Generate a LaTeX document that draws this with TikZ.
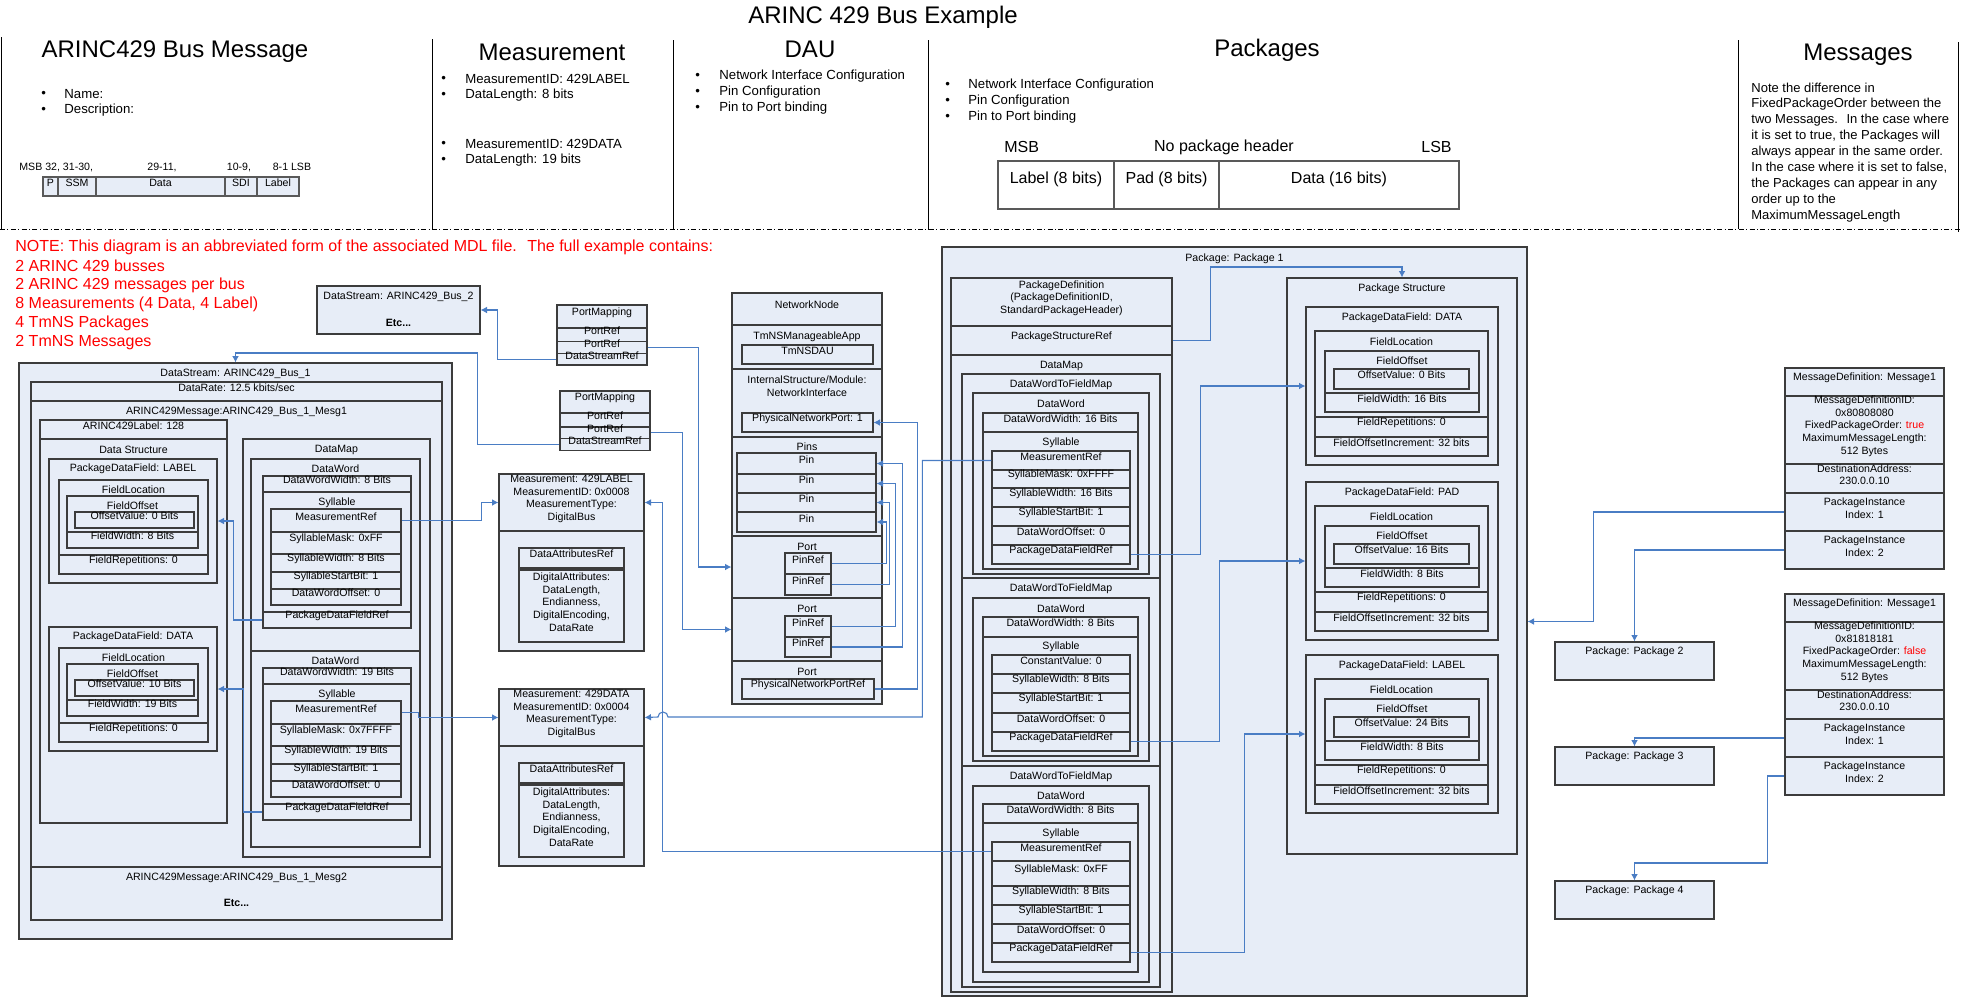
\documentclass[tikz,border=0pt]{standalone}
\usepackage{fontspec}
\setmainfont{Liberation Sans}
\usetikzlibrary{arrows.meta,fit}
\definecolor{boxfill}{HTML}{E7EDF7}
\definecolor{boxline}{HTML}{3C3C3C}
\definecolor{linkblue}{HTML}{4A7DC4}
\definecolor{notered}{HTML}{FF0000}
\begin{document}
\begin{tikzpicture}
  [x=0.5pt,y=-0.5pt,
   cell/.style={draw=boxline,fill=boxfill,line width=0.6pt,inner sep=0pt},
   row/.style={cell,font=\fontsize{5.3}{6.4}\selectfont,align=center},
   txt/.style={inner sep=0pt,font=\fontsize{5.3}{6.4}\selectfont,align=center},
   etc/.style={inner sep=0pt,font=\fontsize{5.3}{6.4}\selectfont\bfseries},
   head/.style={inner sep=0pt,font=\fontsize{12}{14}\selectfont},
   bul/.style={inner sep=0pt,anchor=west,font=\fontsize{6.6}{8}\selectfont},
   notetxt/.style={inner sep=0pt,anchor=west,text=notered,font=\fontsize{8}{9.6}\selectfont},
   link/.style={draw=linkblue,line width=0.55pt,-{Latex[length=3.2pt,width=3.4pt]}},
   divline/.style={draw=black,line width=0.5pt}]
  \fill[white] (0,0) rectangle (1961,997);
  \useasboundingbox (0,0) rectangle (1961,997);

  \node[head] (title) at (883,17) {ARINC 429 Bus Example};
  \node[head] (hbus) at (175,52) {ARINC429 Bus Message};
  \node[head] (hmeas) at (552,52) {Measurement};
  \node[head] (hdau) at (810,49) {DAU};
  \node[head] (hpkgs) at (1267,50) {Packages};
  \node[head] (hmsgs) at (1858,55) {Messages};
  \foreach \x/\a/\b in {1/37/229,432/39/230,673/40/230,928/40/230,1738/40/229,1958/42/232}
    \draw[divline] (\x,\a) -- (\x,\b);
  \draw[divline,dash pattern=on 2.5pt off 1.2pt on 0.5pt off 1.2pt] (0,229) -- (1961,229);

  \foreach \y/\lbl [count=\i] in {94/Name:,110/Description:}
    {\node[bul] (busb\i) at (41,\y) {\textbullet}; \node[bul] (bust\i) at (64,\y) {\lbl};}
  \node[txt,anchor=west] (bmsb) at (19,167) {MSB 32, 31-30,};
  \node[txt] (b29) at (162,167) {29-11,};
  \node[txt] (b10) at (239,167) {10-9,};
  \node[txt] (b8) at (292,167) {8-1 LSB};
  \foreach \a/\b/\lbl [count=\i] in {43/58/P,58/96/SSM,96/225/Data,225/257/SDI,257/299/Label}
    \node[row,draw=gray!70!black,line width=0.8pt,fit={(\a,177) (\b,196)}] (bit\i) {\lbl};

  \foreach \y/\lbl [count=\i] in {79/MeasurementID: 429LABEL,95/DataLength: 8 bits,144/MeasurementID: 429DATA,160/DataLength: 19 bits}
    {\node[bul] (measb\i) at (441,\y) {\textbullet}; \node[bul] (meast\i) at (465,\y) {\lbl};}
  \foreach \y/\lbl [count=\i] in {76/Network Interface Configuration,92/Pin Configuration,108/Pin to Port binding}
    {\node[bul] (daub\i) at (695,\y) {\textbullet}; \node[bul] (daut\i) at (719,\y) {\lbl};}
  \foreach \y/\lbl [count=\i] in {85/Network Interface Configuration,101/Pin Configuration,117/Pin to Port binding}
    {\node[bul] (pkgb\i) at (945,\y) {\textbullet}; \node[bul] (pkgt\i) at (968,\y) {\lbl};}

  \node[inner sep=0pt,anchor=west,font=\fontsize{8}{9.6}\selectfont] (fmsb) at (1004,147) {MSB};
  \node[inner sep=0pt,font=\fontsize{8}{9.6}\selectfont] (fnohd) at (1224,147) {No package header};
  \node[inner sep=0pt,anchor=east,font=\fontsize{8}{9.6}\selectfont] (flsb) at (1452,147) {LSB};
  \foreach \a/\b/\lbl [count=\i] in {998/1114/Label (8 bits),1114/1219/Pad (8 bits),1219/1459/Data (16 bits)}
    \node[cell,fill=white,draw=gray!70!black,line width=0.8pt,font=\fontsize{8}{9.6}\selectfont,fit={(\a,161) (\b,209)}] (fmt\i) {\lbl};

  \foreach \lbl [count=\i] in {Note the difference in,FixedPackageOrder between the,two Messages.~ In the case where,{it is set to true, the Packages will},always appear in the same order.,{In the case where it is set to false,},the Packages can appear in any,order up to the,MaximumMessageLength}
    \node[bul,font=\fontsize{6.5}{8}\selectfont] (note\i) at (1751,{72+16*\i}) {\lbl};

  \foreach \lbl [count=\i] in {NOTE: This diagram is an abbreviated form of the associated MDL file.~ The full example contains:,2 ARINC 429 busses,2 ARINC 429 messages per bus,{8 Measurements (4 Data, 4 Label)},4 TmNS Packages,2 TmNS Messages}
    \node[notetxt] (red\i) at (15,{227.8+19.2*\i}) {\lbl};

  \node[cell,fit={(317,286) (480,334)}] (ds2) {};
  \node[txt] (ds2t) at (398.5,297) {DataStream: ARINC429\_Bus\_2};
  \node[etc] (ds2e) at (398.5,323) {Etc...};

  \node[row,fit={(557,305) (647,328)}] (pm1) {PortMapping};
  \node[row,fit={(557,328) (647,341.7)}] (pm1a) {PortRef};
  \node[row,fit={(557,341.7) (647,353.3)}] (pm1b) {PortRef};
  \node[row,fit={(557,353.3) (647,365)}] (pm1c) {DataStreamRef};
  \node[row,fit={(560,391) (650,413)}] (pm2) {PortMapping};
  \node[row,fit={(560,413) (650,427)}] (pm2a) {PortRef};
  \node[row,fit={(560,427) (650,438.7)}] (pm2b) {PortRef};
  \node[row,fit={(560,438.7) (650,450.7)}] (pm2c) {DataStreamRef};

  \node[cell,fit={(732,293) (882,704)}] (nn) {};
  \node[row,fit={(732,293) (882,325)}] (nnhd) {NetworkNode};
  \node[cell,fit={(732,325) (882,369)}] (nnapp) {};
  \node[txt] (nnappt) at (807,337) {TmNSManageableApp};
  \node[row,fit={(742,345) (873,364)}] (dau) {TmNSDAU};
  \node[cell,fit={(732,369) (882,437)}] (nnint) {};
  \node[txt] (nnintt) at (807,386.5) {InternalStructure/Module:\\NetworkInterface};
  \node[row,fit={(742,413) (873,432)}] (pnp) {PhysicalNetworkPort: 1};
  \node[cell,fit={(732,437) (882,536)}] (pins) {};
  \node[txt] (pinst) at (807,447) {Pins};
  \foreach \a/\b [count=\i] in {453/474,474/493,493/512,512/532}
    \node[row,fit={(737,\a) (876,\b)}] (pin\i) {Pin};
  \node[cell,fit={(732,536) (882,598)}] (port1) {};
  \node[txt] (port1t) at (807,547) {Port};
  \node[row,fit={(785,553) (831,574)}] (pr1a) {PinRef};
  \node[row,fit={(785,574) (831,595)}] (pr1b) {PinRef};
  \node[cell,fit={(732,598) (882,661)}] (port2) {};
  \node[txt] (port2t) at (807,609) {Port};
  \node[row,fit={(785,616) (831,637)}] (pr2a) {PinRef};
  \node[row,fit={(785,637) (831,657)}] (pr2b) {PinRef};
  \node[cell,fit={(732,661) (882,704)}] (port3) {};
  \node[txt] (port3t) at (807,672) {Port};
  \node[row,fit={(742,679) (874,699)}] (pnpref) {PhysicalNetworkPortRef};

  \foreach \ty/\nm/\id/\idv in {474/lab/429LABEL/0x0008,689/dat/429DATA/0x0004}
  {
    \node[cell,fit={(499,\ty) (644,{\ty+177})}] (m\nm) {};
    \node[row,fit={(499,\ty) (644,{\ty+57})}] (m\nm hd) {Measurement: \id\\MeasurementID: \idv\\MeasurementType:\\DigitalBus};
    \node[row,fit={(519,{\ty+74}) (624,{\ty+94})}] (m\nm ref) {DataAttributesRef};
    \node[row,fit={(519,{\ty+96}) (624,{\ty+168})}] (m\nm att) {DigitalAttributes:\\DataLength,\\Endianness,\\DigitalEncoding,\\DataRate};
  }

  \node[cell,fit={(19,363) (452,939)}] (ds1) {};
  \node[txt] (ds1t) at (235.5,374) {DataStream: ARINC429\_Bus\_1};
  \node[row,fit={(31,382) (442,401)}] (rate) {DataRate: 12.5 kbits/sec};
  \node[cell,fit={(31,401) (442,867)}] (mesg1) {};
  \node[txt] (mesg1t) at (236.5,412) {ARINC429Message:ARINC429\_Bus\_1\_Mesg1};
  \node[cell,fit={(31,867) (442,920)}] (mesg2) {};
  \node[txt] (mesg2t) at (236.5,878) {ARINC429Message:ARINC429\_Bus\_1\_Mesg2};
  \node[etc] (mesg2e) at (236.5,903) {Etc...};
  \node[cell,fit={(40,420) (227,823)}] (albl) {};
  \node[row,fit={(40,420) (227,439)}] (albhd) {ARINC429Label: 128};
  \node[txt] (dstr) at (133.5,450) {Data Structure};
  \foreach \ty/\nm/\fld/\ov/\fw in {459/lbl/LABEL/0/8,627/dat/DATA/10/19}
  {
    \node[cell,fit={(49,\ty) (217,{\ty+124})}] (pdf\nm) {};
    \node[txt] (pdft\nm) at (133,{\ty+10}) {PackageDataField: \fld};
    \node[cell,fit={(59,{\ty+21}) (208,{\ty+115})}] (fl\nm) {};
    \node[txt] (flt\nm) at (133.5,{\ty+31}) {FieldLocation};
    \node[cell,fit={(67,{\ty+37}) (198,{\ty+89})}] (fo\nm) {};
    \node[txt] (fot\nm) at (132.5,{\ty+47}) {FieldOffset};
    \node[row,fit={(75,{\ty+53}) (194,{\ty+69})}] (ov\nm) {OffsetValue: \ov\ Bits};
    \node[row,fit={(67,{\ty+73}) (198,{\ty+89})}] (fw\nm) {FieldWidth: \fw\ Bits};
    \node[row,fit={(59,{\ty+96}) (208,{\ty+115})}] (fr\nm) {FieldRepetitions: 0};
  }
  \node[cell,fit={(243,439) (430,857)}] (dmap) {};
  \node[txt] (dmapt) at (336.5,450) {DataMap};
  \foreach \ty/\tb/\nm/\w/\mask in {459/651/a/8/0xFF,651/847/b/19/0x7FFFF}
  {
    \node[cell,fit={(251,\ty) (420,\tb)}] (dw\nm) {};
    \node[txt] (dwt\nm) at (335.5,{\ty+10}) {DataWord};
    \node[cell,fit={(263,{\ty+17}) (411,{\ty+169})}] (dwi\nm) {};
    \node[row,fit={(263,{\ty+17}) (411,{\ty+33})}] (dww\nm) {DataWordWidth: \w\ Bits};
    \node[txt] (sylt\nm) at (337,{\ty+44}) {Syllable};
    \node[cell,fit={(271,{\ty+50}) (401,{\ty+146})}] (syl\nm) {};
    \node[row,fit={(271,{\ty+50}) (401,{\ty+73})}] (mref\nm) {MeasurementRef};
    \node[row,fit={(271,{\ty+73}) (401,{\ty+95})}] (smask\nm) {SyllableMask: \mask};
    \node[row,fit={(271,{\ty+95}) (401,{\ty+113})}] (swid\nm) {SyllableWidth: \w\ Bits};
    \node[row,fit={(271,{\ty+113}) (401,{\ty+130})}] (sbit\nm) {SyllableStartBit: 1};
    \node[row,fit={(271,{\ty+130}) (401,{\ty+146})}] (doff\nm) {DataWordOffset: 0};
    \node[row,fit={(263,{\ty+153}) (411,{\ty+169})}] (pref\nm) {PackageDataFieldRef};
  }

  \node[cell,fit={(942,247) (1527,996)}] (pkg1) {};
  \node[txt] (pkg1t) at (1234.5,259) {Package: Package 1};
  \node[cell,fit={(951,278) (1172,992)}] (pdef) {};
  \node[row,fit={(951,278) (1172,326)}] (pdefhd) {PackageDefinition\\(PackageDefinitionID,\\StandardPackageHeader)};
  \node[row,fit={(951,326) (1172,355)}] (psref) {PackageStructureRef};
  \node[txt] (pdmapt) at (1061.5,366) {DataMap};

  \node[cell,fit={(962,374) (1160,578)}] (map1) {};
  \node[txt] (map1t) at (1061,385) {DataWordToFieldMap};
  \node[cell,fit={(973,393) (1149,574)}] (word1) {};
  \node[txt] (word1t) at (1061,404) {DataWord};
  \node[cell,fit={(983,413) (1138,569)}] (wordin1) {};
  \node[row,fit={(983,413) (1138,432)}] (wwid1) {DataWordWidth: 16 Bits};
  \node[txt] (syll1) at (1061,443) {Syllable};
  \foreach \a/\b/\lbl [count=\i] in {451/470/MeasurementRef,470/488/SyllableMask: 0xFFFF,488/507/SyllableWidth: 16 Bits,507/526/SyllableStartBit: 1,526/545/DataWordOffset: 0,545/564/PackageDataFieldRef}
    \node[row,fit={(992,\a) (1130,\b)}] (wa\i) {\lbl};

  \node[cell,fit={(962,578) (1160,766)}] (map2) {};
  \node[txt] (map2t) at (1061,589) {DataWordToFieldMap};
  \node[cell,fit={(973,598) (1149,761)}] (word2) {};
  \node[txt] (word2t) at (1061,609) {DataWord};
  \node[cell,fit={(983,617) (1138,756)}] (wordin2) {};
  \node[row,fit={(983,617) (1138,637)}] (wwid2) {DataWordWidth: 8 Bits};
  \node[txt] (syll2) at (1061,647) {Syllable};
  \foreach \a/\b/\lbl [count=\i] in {655/674/ConstantValue: 0,674/693/SyllableWidth: 8 Bits,693/713/SyllableStartBit: 1,713/732/DataWordOffset: 0,732/751/PackageDataFieldRef}
    \node[row,fit={(992,\a) (1130,\b)}] (wb\i) {\lbl};

  \node[cell,fit={(962,766) (1160,987)}] (map3) {};
  \node[txt] (map3t) at (1061,777) {DataWordToFieldMap};
  \node[cell,fit={(973,786) (1149,982)}] (word3) {};
  \node[txt] (word3t) at (1061,796) {DataWord};
  \node[cell,fit={(983,804) (1138,972)}] (wordin3) {};
  \node[row,fit={(983,804) (1138,823)}] (wwid3) {DataWordWidth: 8 Bits};
  \node[txt] (syll3) at (1061,834) {Syllable};
  \foreach \a/\b/\lbl [count=\i] in {842/861/MeasurementRef,861/886/SyllableMask: 0xFF,886/905/SyllableWidth: 8 Bits,905/924/SyllableStartBit: 1,924/943/DataWordOffset: 0,943/962/PackageDataFieldRef}
    \node[row,fit={(992,\a) (1130,\b)}] (wc\i) {\lbl};

  \node[cell,fit={(1287,278) (1517,854)}] (pstr) {};
  \node[txt] (pstrt) at (1402,289) {Package Structure};
  \foreach \ty/\nm/\fld/\ov/\fw in {307/data/DATA/0/16,482/pad/PAD/16/8,655/label/LABEL/24/8}
  {
    \node[cell,fit={(1306,\ty) (1498,{\ty+158})}] (rpdf\nm) {};
    \node[txt] (rpdft\nm) at (1402,{\ty+11}) {PackageDataField: \fld};
    \node[cell,fit={(1315,{\ty+24}) (1488,{\ty+149})}] (rfl\nm) {};
    \node[txt] (rflt\nm) at (1401.5,{\ty+35}) {FieldLocation};
    \node[cell,fit={(1325,{\ty+44}) (1479,{\ty+105})}] (rfo\nm) {};
    \node[txt] (rfot\nm) at (1402,{\ty+54}) {FieldOffset};
    \node[row,fit={(1334,{\ty+62}) (1469,{\ty+82})}] (rov\nm) {OffsetValue: \ov\ Bits};
    \node[row,fit={(1325,{\ty+86}) (1479,{\ty+105})}] (rfw\nm) {FieldWidth: \fw\ Bits};
    \node[row,fit={(1315,{\ty+110}) (1488,{\ty+130})}] (rfr\nm) {FieldRepetitions: 0};
    \node[row,fit={(1315,{\ty+130}) (1488,{\ty+149})}] (rfi\nm) {FieldOffsetIncrement: 32 bits};
  }

  \foreach \ty/\nm/\id/\fix in {368/a/0x80808080/true,594/b/0x81818181/false}
  {
    \node[cell,fit={(1785,\ty) (1944,{\ty+201})}] (md\nm) {};
    \node[row,fit={(1785,\ty) (1944,{\ty+28})}] (mdh\nm) {MessageDefinition: Message1};
    \node[row,fit={(1785,{\ty+28}) (1944,{\ty+96})}] (mdi\nm) {MessageDefinitionID:\\\id\\FixedPackageOrder: \textcolor{notered}{\fix}\\MaximumMessageLength:\\512 Bytes};
    \node[row,fit={(1785,{\ty+96}) (1944,{\ty+125})}] (mdd\nm) {DestinationAddress:\\230.0.0.10};
    \node[row,fit={(1785,{\ty+125}) (1944,{\ty+163})}] (pia\nm) {PackageInstance\\Index: 1};
    \node[row,fit={(1785,{\ty+163}) (1944,{\ty+201})}] (pib\nm) {PackageInstance\\Index: 2};
  }
  \foreach \ty/\k in {642/2,747/3,881/4}
  {
    \node[cell,fit={(1555,\ty) (1714,{\ty+38})}] (pk\k) {};
    \node[txt] (pkt\k) at (1634.5,{\ty+10}) {Package: Package \k};
  }

  \draw[link] (pm1c.west) -- ++(-59,0) |- (ds2.east);
  \draw[link] (pm2c.west) -- ++(-82,0) -- ++(0,-91.7) -| (ds1.north);
  \draw[link] (pm1b.east) -- ++(51,0) |- (port1.west);
  \draw[link] (pm2b.east) -- ++(32,0) |- (port2.west);
  \draw[link] (pr1a.east) -- ++(55,0) |- (pin4.east);
  \draw[link] (pr1b.east) -- ++(58,0) |- (pin3.east);
  \draw[link] (pr2a.east) -- ++(64,0) |- (pin2.east);
  \draw[link] (pr2b.east) -- ++(71,0) |- (pin1.east);
  \draw[link] (pnpref.east) -- ++(43,0) |- (pnp.east);
  \draw[link] (mrefa.east) -- ++(80,0) |- (mlabhd.west);
  \draw[link] (mrefb.east) -- ++(17,0) |- (mdathd.west);
  \draw[link] (prefa.west) -- ++(-29,0) |- (pdflbl.east);
  \draw[link] (prefb.west) -- ++(-19,0) |- (pdfdat.east);
  \draw[link] (wc1.west) -- ++(-329,0) |- (mlabhd.east);
  \draw[link] (wa1.west) -- ++(-69,0) |- (668,717) arc[start angle=0,end angle=-180,radius=5] -- (mdathd.east);
  \draw[link] (psref.east) -- ++(38,0) -- ++(0,-73.5) -| (pstr.north);
  \draw[link] (wa6.east) -- ++(70,0) |- (rpdfdata.west);
  \draw[link] (wb5.east) -- ++(89,0) |- (rpdfpad.west);
  \draw[link] (wc6.east) -- ++(114,0) |- (rpdflabel.west);
  \draw[link] (piaa.west) -- ++(-191,0) |- (pkg1.east);
  \draw[link] (piba.west) -| (pk2.north);
  \draw[link] (piab.west) -| (pk3.north);
  \draw[link] (pibb.west) -- ++(-17,0) -- ++(0,87) -| (pk4.north);
\end{tikzpicture}
\end{document}
